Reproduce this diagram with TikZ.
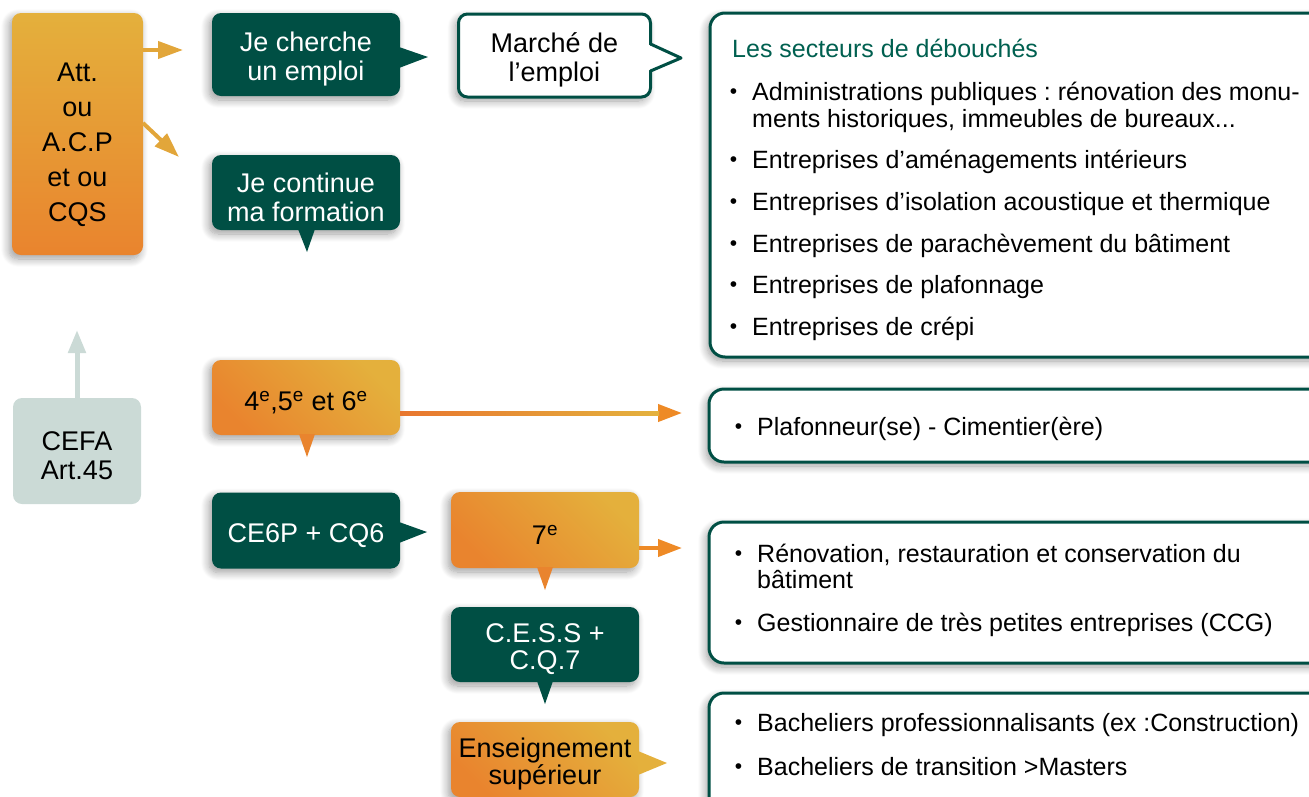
\documentclass[tikz,border=0pt]{standalone}
\usepackage{fontspec}
\setmainfont{Liberation Sans}
\frenchspacing
\usetikzlibrary{arrows.meta,calc,shadows.blur}
\definecolor{dkgreen}{RGB}{0,79,68}
\definecolor{ttlgreen}{RGB}{0,96,80}
\definecolor{yel}{RGB}{228,176,60}
\definecolor{org}{RGB}{233,132,46}
\definecolor{arrorg}{RGB}{238,138,38}
\definecolor{arryel}{RGB}{226,166,58}
\definecolor{shaftL}{RGB}{232,118,46}
\definecolor{shaftR}{RGB}{228,178,62}
\definecolor{cefagrey}{RGB}{203,218,214}
\newcommand\bu{\llap{\raisebox{1.5pt}{\fontsize{21}{21}\selectfont •}\hspace{15pt}}}
\newcommand\tst{\rule{0pt}{28.5pt}}
\tikzset{
  shad/.style={blur shadow={shadow xshift=-3pt, shadow yshift=-4pt, shadow blur steps=12, shadow opacity=38, shadow blur radius=8pt}},
  basebox/.style={rounded corners=9pt, minimum width=188pt, align=center, inner sep=0pt, outer sep=0pt, font=\fontsize{27}{29}\selectfont},
  gbox/.style={basebox, shad, fill=dkgreen, text=white},
  obox/.style={basebox, shad, top color=org, bottom color=yel, shading angle=135, text=black},
  attbox/.style={shad, rounded corners=9pt, top color=yel, bottom color=org, minimum width=131pt, minimum height=242pt, inner sep=0pt, outer sep=0pt},
  cefabox/.style={basebox, fill=cefagrey, minimum width=128pt, minimum height=106pt, text=black},
  wbox/.style={shad, draw=dkgreen, line width=3pt, fill=white, rounded corners=15pt, anchor=north west, outer sep=0pt, inner sep=0pt, minimum width=650pt},
  itm/.style={anchor=base west, inner sep=0pt, font=\fontsize{25}{28}\selectfont},
  arrY/.style={line width=4pt, draw=arryel, -{Triangle[length=25pt,width=17pt]}},
  arrO/.style={line width=4pt, draw=arrorg, -{Triangle[length=24pt,width=17pt]}},
  arrG/.style={line width=5pt, draw=cefagrey, -{Triangle[length=23pt,width=17pt]}}
}
\begin{document}
\begin{tikzpicture}[x=1pt,y=-1pt]
\useasboundingbox (0,0) rectangle (1309,796);
\clip (0,0) rectangle (1309,796);

% ---------- right-hand boxes ----------
\node[wbox, minimum height=344pt] (sect) at (710,13) {};
\node[wbox, minimum height=73pt] (plaf) at (709,389) {};
\node[wbox, minimum height=141pt] (reno) at (709,522) {};
\node[wbox, minimum height=140pt] (bach) at (709,693) {};

\node[itm, text=ttlgreen] (ttl) at (732,57) {Les secteurs de débouchés};
\node[itm] (i1a) at (752,100) {\bu Administrations publiques : rénovation des monu-};
\node[itm] (i1b) at (752,127) {ments historiques, immeubles de bureaux...};
\node[itm] (i2) at (752,168) {\bu Entreprises d’aménagements intérieurs};
\node[itm] (i3) at (752,210) {\bu Entreprises d’isolation acoustique et thermique};
\node[itm] (i4) at (752,252) {\bu Entreprises de parachèvement du bâtiment};
\node[itm] (i5) at (752,293) {\bu Entreprises de plafonnage};
\node[itm] (i6) at (752,335) {\bu Entreprises de crépi};

\node[itm] (j1) at (757,435) {\bu Plafonneur(se) - Cimentier(ère)};

\node[itm] (k1a) at (757,562) {\bu Rénovation, restauration et conservation du};
\node[itm] (k1b) at (757,588) {bâtiment};
\node[itm] (k2) at (757,631) {\bu Gestionnaire de très petites entreprises (CCG)};

\node[itm] (l1) at (757,731) {\bu Bacheliers professionnalisants (ex :Construction)};
\node[itm] (l2) at (757,775) {\bu Bacheliers de transition >Masters};

% ---------- left column ----------
\node[attbox] (att) at (77.5,134) {};
\node[align=center, inner sep=0pt, font=\fontsize{27}{35}\selectfont] (atttxt) at (77.5,145) {Att.\\ou\\A.C.P\\et ou\\CQS};

\node[cefabox] (cefa) at (77,451) {\tst CEFA\\Art.45};
\coordinate (a3end) at (77,330);
\draw[arrG] (cefa.north) -- (a3end);

% ---------- speech bubbles ----------
\node[gbox, minimum height=83pt] (cherche) at (306,54.5) {\tst Je cherche\\un emploi};
\fill[dkgreen] (399,47) -- (428,57) -- (399,68) -- cycle;

\node[gbox, minimum height=75pt] (continue) at (306,192.5) {\tst Je continue\\ma formation};
\fill[dkgreen] (298,229) -- (307,252) -- (315,229) -- cycle;

\node[basebox, shad, fill=white, draw=dkgreen, line width=3pt, minimum width=192pt, minimum height=83pt] (marche) at (554.5,55.5) {\tst Marché de\\l’emploi};
\fill[white] (647,44) -- (681,58) -- (647,71) -- cycle;
\draw[dkgreen, line width=3pt, line join=round] (650.5,44) -- (681,58) -- (650.5,71);

\node[obox, minimum height=75pt] (s4) at (306,397.5) {\tst 4\textsuperscript{e},5\textsuperscript{e} et 6\textsuperscript{e}};
\fill[org] (299,434) -- (307,457) -- (315,434) -- cycle;

\node[gbox, minimum height=76pt] (ce6p) at (306,530.5) {\tst CE6P + CQ6};
\fill[dkgreen] (399,522) -- (427,532) -- (399,543) -- cycle;

\node[obox, minimum height=76pt] (s7) at (545,530) {\tst 7\textsuperscript{e}};
\fill[org] (537,567) -- (545,590) -- (553,567) -- cycle;

\node[gbox, minimum height=75pt, font=\fontsize{27}{27}\selectfont] (cess) at (545,644.5) {\tst C.E.S.S +\\C.Q.7};
\fill[dkgreen] (537,681) -- (545,704) -- (553,681) -- cycle;

\node[obox, minimum height=75pt, font=\fontsize{27}{27}\selectfont] (ens) at (545,759.5) {\tst Enseignement\\supérieur};
\fill[yel] (638,751) -- (667,763) -- (638,775) -- cycle;

% ---------- arrows ----------
\coordinate (a1end) at (183,50);
\coordinate (a2end) at (179,157);
\draw[arrY] ([yshift=-37pt]att.north east) -- (a1end);
\draw[arrY] ([yshift=-110pt]att.north east) -- (a2end);

\coordinate (a4end) at (682,413);
\draw[arrO] ([yshift=-53pt]s4.north east) -- (a4end);
\shade[left color=shaftL, right color=shaftR] (400,411) rectangle (659,415);

\coordinate (a5end) at (682,548);
\draw[arrO] ([yshift=-18pt]s7.east) -- (a5end);
\end{tikzpicture}
\end{document}
